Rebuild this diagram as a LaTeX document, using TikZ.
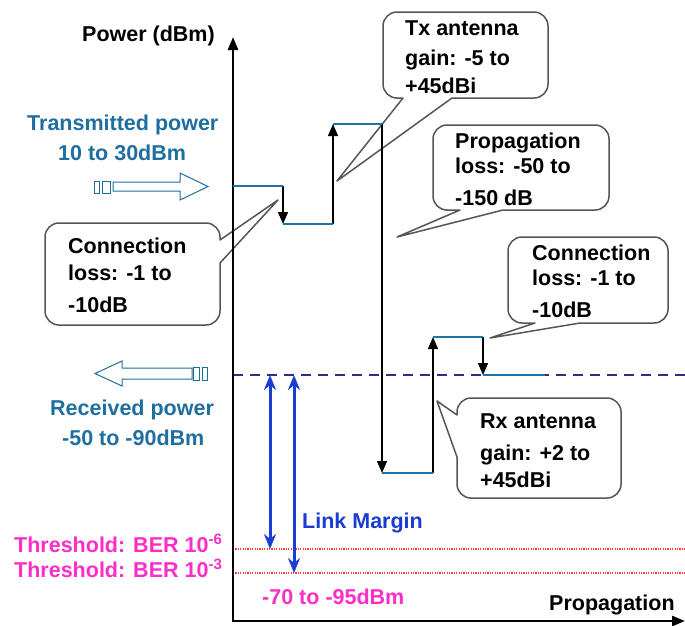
\documentclass[tikz,border=0pt]{standalone}
\usepackage{fontspec}
\setmainfont{Liberation Sans}
\usetikzlibrary{arrows.meta}
\definecolor{steel}{RGB}{30,110,160}
\definecolor{lvl}{RGB}{30,115,170}
\definecolor{royal}{RGB}{25,60,210}
\definecolor{navyd}{RGB}{45,45,140}
\definecolor{redd}{RGB}{255,60,60}
\definecolor{pinkm}{RGB}{255,45,200}
\definecolor{callgray}{RGB}{85,85,85}
\begin{document}
\begin{tikzpicture}[x=1pt,y=-1pt,
  txt/.style={inner sep=0pt, anchor=base west, font=\fontsize{21.5}{25}\selectfont\bfseries},
  level/.style={lvl, line width=2.6pt},
  steparrow/.style={black, line width=1.4pt, -{Triangle[width=10pt,length=12pt]}},
  marginarrow/.style={royal, line width=3pt, {Stealth[width=12pt,length=15pt]}-{Stealth[width=12pt,length=15pt]}},
  callout/.style={draw=callgray, line width=1.5pt, fill=white, line join=round},
  hollow/.style={draw=steel, line width=1pt, fill=white},
  axis/.style={black, line width=2.6pt, {Triangle[width=10pt,length=13pt]}-{Triangle[width=10pt,length=13pt]}}
]
\useasboundingbox (0,0) rectangle (685,625);

% callouts (drawn first, axes and steps on top)
\draw[callout] (337,181) -- (403,98) [rounded corners=14pt] -- (383,98) -- (383,12) -- (548,12) -- (548,98) [sharp corners] -- (452,98) -- cycle;
\draw[callout] (397,237) -- (460,210) [rounded corners=14pt] -- (433,210) -- (433,125) -- (609,125) -- (609,210) [sharp corners] -- (503,210) -- cycle;
\draw[callout] (278,200) -- (220,263) [rounded corners=14pt] -- (220,325) -- (45,325) -- (45,223) -- (220,223) [sharp corners] -- (220,240) -- cycle;
\draw[callout] (490,338) -- (535,323) [rounded corners=14pt] -- (508,323) -- (508,237) -- (668,237) -- (668,323) [sharp corners] -- (580,323) -- cycle;
\draw[callout] (437,401) -- (457,457) [rounded corners=14pt] -- (457,498) -- (621,498) -- (621,398) -- (457,398) [sharp corners] -- (457,415) -- cycle;

% reference lines
\draw[navyd, line width=1.8pt, dash pattern=on 10pt off 7pt] (233,375) -- (685,375);
\draw[redd, line width=1.2pt, dash pattern=on 1.2pt off 1.2pt] (233,549) -- (685,549);
\draw[redd, line width=1.2pt, dash pattern=on 1.2pt off 1.2pt] (233,573) -- (685,573);

% axes
\coordinate (Ytop) at (233,37);
\coordinate (O) at (233,621);
\coordinate (Xend) at (685,621);
\draw[axis] (Ytop) -- (O) -- (Xend);

% power levels
\coordinate (L1a) at (233,186); \coordinate (L1b) at (283,186);
\coordinate (L2a) at (283,224); \coordinate (L2b) at (333,224);
\coordinate (L3a) at (333,124); \coordinate (L3b) at (382,124);
\coordinate (L4a) at (382,473); \coordinate (L4b) at (433,473);
\coordinate (L5a) at (433,337); \coordinate (L5b) at (483,337);
\coordinate (L6a) at (483,375); \coordinate (L6b) at (545,375);
\draw[steparrow] (L1b) -- (L2a);
\draw[steparrow] (L2b) -- (L3a);
\draw[steparrow] (L3b) -- (L4a);
\draw[steparrow] (L4b) -- (L5a);
\draw[steparrow] (L5b) -- (L6a);
\draw[level] (L1a) -- (L1b);
\draw[level] (L2a) -- (L2b);
\draw[level] (L3a) -- (L3b);
\draw[level] (L4a) -- (L4b);
\draw[level] (L5a) -- (L5b);
\draw[level] (L6a) -- (L6b);

% link margin arrows
\coordinate (M1a) at (270,375); \coordinate (M1b) at (270,549);
\coordinate (M2a) at (294,375); \coordinate (M2b) at (294,573);
\draw[marginarrow] (M1a) -- (M1b);
\draw[marginarrow] (M2a) -- (M2b);

% hollow arrows
\draw[hollow] (94,181) rectangle (99,193);
\draw[hollow] (102,181) rectangle (110,193);
\draw[hollow] (113,182) -- (180,182) -- (180,173) -- (208,186.5) -- (180,200) -- (180,191) -- (113,191) -- cycle;
\draw[hollow] (95,373.5) -- (122,361) -- (122,368) -- (192,368) -- (192,379) -- (122,379) -- (122,386) -- cycle;
\draw[hollow] (193,367) rectangle (199,380);
\draw[hollow] (202,367) rectangle (207,380);

% callout texts
\node[txt] (tx1) at (405,35) {Tx antenna};
\node[txt] (tx2) at (405,65) {gain: -5 to};
\node[txt] (tx3) at (405,93) {+45dBi};
\node[txt] (pr1) at (455,148) {Propagation};
\node[txt] (pr2) at (455,173) {loss: -50 to};
\node[txt] (pr3) at (455,205) {-150 dB};
\node[txt] (cl1) at (68,253) {Connection};
\node[txt] (cl2) at (68,280) {loss: -1 to};
\node[txt] (cl3) at (68,312) {-10dB};
\node[txt] (cr1) at (532,260) {Connection};
\node[txt] (cr2) at (532,285) {loss: -1 to};
\node[txt] (cr3) at (532,317) {-10dB};
\node[txt] (rx1) at (480,428) {Rx antenna};
\node[txt] (rx2) at (480,460) {gain: +2 to};
\node[txt] (rx3) at (480,487) {+45dBi};

% main labels
\node[txt] (ylab) at (82,41) {Power (dBm)};
\node[txt] (xlab) at (549,610) {Propagation};
\node[txt, steel] (tp1) at (27,130) {Transmitted power};
\node[txt, steel] (tp2) at (58,160) {10 to 30dBm};
\node[txt, steel] (rp1) at (50,415) {Received power};
\node[txt, steel] (rp2) at (62,445) {-50 to -90dBm};
\node[txt, royal] (lm) at (302,528) {Link Margin};
\node[txt, pinkm] (th1) at (14,552) {Threshold: BER 10\textsuperscript{-6}};
\node[txt, pinkm] (th2) at (14,577) {Threshold: BER 10\textsuperscript{-3}};
\node[txt, pinkm] (rng) at (262,604) {-70 to -95dBm};
\end{tikzpicture}
\end{document}
